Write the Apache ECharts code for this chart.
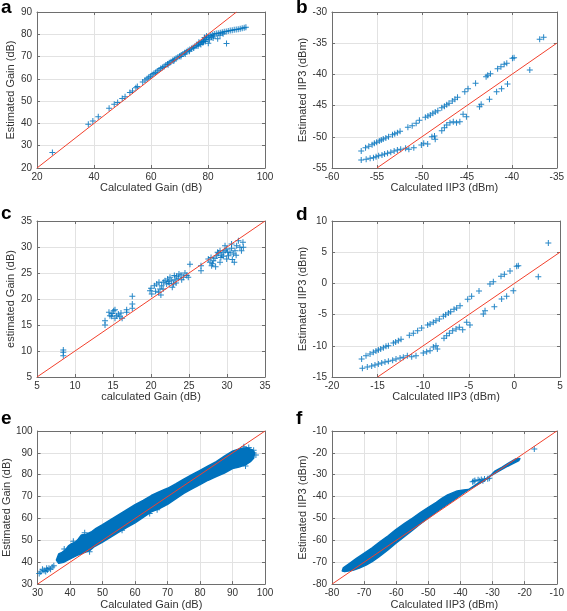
<!DOCTYPE html>
<html>
<head>
<meta charset="utf-8">
<script src="https://cdn.jsdelivr.net/npm/echarts@6/dist/echarts.min.js"></script>
<style>
html,body{margin:0;padding:0;background:#fff;}
#chart{width:567px;height:611px;}
</style>
</head>
<body>
<div id="chart"></div>
<script>
// ---------------- DATA ----------------
// Panel a: Calculated Gain vs Estimated Gain (dB)
const pointsA = [
 [25.4,26.9],[38.0,39.6],[39.6,41.1],[41.5,43.0],[45.3,46.8],[47.1,48.6],[48.3,49.4],[49.9,51.2],
 [50.9,52.0],[52.6,53.9],[53.5,54.5],[54.7,56.0],[55.2,56.6],[57.1,58.6],[57.9,59.5],
 [58.6,60.1],[59.2,60.7],[59.8,61.2],[60.4,61.8],[61.0,62.4],[61.6,62.9],[62.2,63.5],[62.8,64.0],
 [63.4,64.6],[64.0,65.1],[64.6,65.6],[65.2,66.2],[65.8,66.7],[66.4,67.2],[67.0,67.7],[67.6,68.2],
 [68.2,68.7],[68.8,69.2],[69.4,69.7],[70.0,70.2],[70.6,70.7],[71.2,71.2],[71.8,71.7],[72.4,72.2],
 [73.0,72.7],[73.6,73.2],[74.2,73.6],[74.8,74.1],[75.4,74.6],[76.0,75.0],[76.6,75.5],[77.2,76.0],
 [77.8,76.5],[78.4,77.1],[79.0,77.7],[79.6,78.3],[80.2,78.8],
 [66.0,66.3],[68.0,68.0],[70.5,70.0],[72.0,71.2],[73.5,72.4],[75.0,73.8],[76.5,74.7],[77.5,75.4],
 [78.2,76.2],[79.0,76.8],[76.8,76.4],[78.8,78.6],[79.5,79.2],
 [80.8,79.4],[81.5,79.8],[82.2,80.1],[82.9,80.3],[83.6,80.5],[84.3,80.7],[85.0,80.9],[85.7,81.1],
 [86.4,81.3],[87.1,81.5],[87.8,81.7],[88.5,81.8],[89.2,82.0],[89.9,82.1],[90.6,82.3],[91.3,82.5],
 [92.0,82.7],[92.7,82.9],[93.3,83.2],[81.2,78.8],[82.0,79.2],[83.4,78.0],[84.2,79.6],[85.3,80.2],
 [86.5,75.9],[80.1,76.0],[78.4,76.8],[81.8,78.3],[80.5,77.6]
];
const refA = [20, 90];

// Panel b: Calculated IIP3 vs Estimated IIP3 (dBm)
const upperB = [
 [-56.75,-52.28],[-56.27,-51.74],[-55.91,-51.53],[-55.54,-51.26],[-55.29,-51.05],[-55.03,-50.89],
 [-54.74,-50.67],[-54.52,-50.51],[-54.30,-50.35],[-54.01,-50.19],[-53.71,-49.98],[-53.27,-49.66],
 [-53.02,-49.50],[-52.73,-49.34],[-52.43,-49.12],[-51.56,-48.48],[-51.08,-48.22],[-50.64,-47.84],
 [-50.28,-47.36],[-49.62,-46.88],[-49.33,-46.67],[-49.07,-46.51],[-48.78,-46.24],[-48.52,-46.03],
 [-48.23,-45.81],[-47.79,-45.33],[-47.50,-45.12],[-47.24,-44.85],[-46.99,-44.64],[-46.62,-44.26],
 [-46.33,-44.00],[-46.04,-43.68],[-45.23,-42.77],[-44.87,-42.29],[-44.03,-41.43],[-42.86,-40.36],
 [-42.68,-40.15],[-42.38,-39.88],[-41.58,-39.08],[-41.21,-38.76],[-40.85,-38.39],[-40.56,-38.23],
 [-39.93,-37.43],[-39.75,-37.32],[-36.90,-34.38],[-36.46,-34.06]
];
const lowerB = [
 [-56.75,-53.72],[-56.20,-53.61],[-55.76,-53.45],[-55.39,-53.34],[-55.10,-53.18],[-54.81,-53.02],
 [-54.44,-52.92],[-54.15,-52.76],[-53.82,-52.65],[-53.46,-52.49],[-53.09,-52.28],[-52.73,-52.12],
 [-52.36,-52.01],[-51.81,-51.85],[-51.45,-52.01],[-50.90,-51.74],[-50.06,-51.31],[-49.80,-51.05],
 [-49.36,-51.15],[-48.89,-49.98],[-48.60,-49.87],[-48.52,-50.41],[-47.79,-49.02],[-47.50,-48.54],
 [-47.24,-48.11],[-46.88,-47.74],[-46.51,-47.58],[-46.15,-47.74],[-45.78,-47.58],[-45.42,-46.40],
 [-45.05,-46.77],[-43.59,-45.17],[-43.41,-44.80],[-42.49,-44.00],[-41.69,-42.77],[-41.14,-42.29],
 [-40.48,-41.54],[-38.00,-39.29]
];
const refB = [-55, -35];

// Panel c: calculated Gain vs estimated Gain (dB)
const pointsC = [
 [8.46,10.19],[8.46,9.74],[8.46,9.10],
 [13.95,15.83],[13.95,15.0],[14.47,17.44],[14.6,16.8],[14.82,16.67],[15.09,17.76],[15.26,17.95],
 [15.48,16.79],[15.7,17.1],[15.26,16.3],[16.05,17.3],[16.2,16.3],[16.8,17.95],[16.8,17.44],
 [17.54,20.51],[17.54,19.04],[17.54,18.2],[15.9,16.6],[14.9,17.2],
 [19.87,21.6],[20.1,20.96],[20.0,22.05],[20.44,22.56],[20.75,22.88],[21.05,23.2],[21.18,21.92],
 [21.3,20.77],[21.4,22.56],[21.62,23.2],[21.84,23.53],[22.06,22.88],[22.19,23.85],[22.28,23.33],
 [22.5,24.17],[22.72,23.53],[22.8,22.24],[23.07,24.5],[23.16,23.72],[23.38,24.36],[23.6,23.97],
 [23.68,24.8],[23.95,24.6],[24.25,24.17],[24.47,25.0],[24.7,24.5],[24.9,24.17],[24.04,23.72],
 [22.97,22.88],[25.13,26.7],[21.0,21.3],[21.6,21.9],[22.4,23.0],[23.3,23.1],[20.6,21.5],
 [26.58,26.41],[26.58,25.45],[27.54,27.7],[27.76,27.05],[27.98,26.41],[28.2,27.37],[28.42,27.82],
 [28.64,28.33],[28.86,28.85],[29.08,29.3],[29.08,27.05],[29.2,28.0],[29.3,28.46],[29.5,28.97],
 [29.74,29.3],[29.96,29.6],[30.2,28.33],[30.4,28.97],[30.6,29.74],[30.83,28.65],[30.96,27.05],
 [31.05,29.3],[31.27,30.26],[31.5,31.2],[31.7,29.94],[31.9,29.3],[32.1,30.9],[32.15,29.94],
 [30.6,30.6],[29.74,30.26],[28.77,28.97],[27.9,28.0],[29.96,27.7],[28.1,26.8],[28.5,26.2],
 [29.5,28.2],[30.1,29.0],[31.2,28.4],[30.7,27.6]
];
const refC = [5, 35];

// Panel d: Calculated IIP3 vs Estimated IIP3 (dBm)
const upperD = [
 [-16.75,-12.12],[-16.27,-11.58],[-15.83,-11.31],[-15.47,-11.05],[-15.18,-10.83],[-14.92,-10.67],
 [-14.66,-10.51],[-14.37,-10.30],[-14.08,-10.09],[-13.82,-9.98],[-13.27,-9.55],[-13.02,-9.39],
 [-12.73,-9.18],[-12.43,-8.96],[-11.52,-8.32],[-11.08,-8.00],[-10.61,-7.57],[-10.17,-7.15],
 [-9.51,-6.67],[-9.25,-6.51],[-8.89,-6.24],[-8.60,-5.97],[-8.23,-5.71],[-7.79,-5.28],
 [-7.54,-5.01],[-7.24,-4.74],[-6.99,-4.53],[-6.62,-4.16],[-6.33,-3.94],[-5.96,-3.57],
 [-5.12,-2.55],[-4.69,-2.07],[-3.88,-1.22],[-2.68,-0.10],[-2.31,0.28],[-1.47,1.13],
 [-1.10,1.45],[-0.48,1.99],[0.25,2.74],[0.43,2.84],[3.72,6.47]
];
const lowerD = [
 [-16.67,-13.61],[-16.13,-13.40],[-15.65,-13.24],[-15.29,-13.08],[-14.92,-12.92],[-14.55,-12.76],
 [-14.19,-12.60],[-13.82,-12.49],[-13.35,-12.33],[-12.98,-12.12],[-12.54,-11.96],[-12.18,-11.85],
 [-11.74,-11.58],[-11.26,-11.74],[-10.79,-11.58],[-9.99,-11.15],[-9.62,-10.94],[-9.25,-10.78],
 [-8.89,-10.19],[-8.60,-9.98],[-8.45,-10.51],[-7.72,-8.80],[-7.43,-8.38],[-7.13,-8.00],
 [-6.77,-7.57],[-6.40,-7.31],[-6.04,-7.04],[-5.67,-7.41],[-5.23,-6.24],[-4.87,-6.67],
 [-3.41,-4.90],[-3.22,-4.37],[-2.20,-3.73],[-1.40,-2.50],[-0.85,-2.07],[-0.12,-1.16],[2.62,1.08]
];
const refD = [-15, 5];

// Panel e: dense cloud, outline of the band (upper edge then lower edge) + sparse tail / fringe
const bandUpperE = [
 [35.8,41.0],[36.5,43.8],[37.5,44.5],[38.5,45.5],[39.5,47.5],[40.5,48.5],[41.5,49.0],[42.5,50.5],
 [43.5,52.5],[45.0,52.8],[46.5,53.8],[48.0,55.5],[50.0,57.2],[52.5,59.5],[55.0,61.8],[57.5,64.0],
 [60.0,66.3],[62.5,68.3],[65.0,70.5],[67.5,72.3],[70.0,73.8],[72.5,75.8],[75.0,78.0],[77.5,80.0],
 [80.0,82.0],[82.5,84.0],[85.0,86.0],[87.5,88.5],[90.0,90.8],[92.5,92.0],[94.5,92.3],[96.0,91.5],[96.8,90.2]
];
const bandLowerE = [
 [96.5,87.5],[95.5,86.0],[94.0,84.5],[92.0,83.5],[90.0,82.8],[87.5,80.8],[85.0,79.2],[82.5,77.5],
 [80.0,75.5],[77.5,73.5],[75.0,71.5],[72.5,69.0],[70.0,66.5],[67.5,64.5],[65.0,63.0],[62.5,60.5],
 [60.0,58.0],[57.5,56.0],[55.0,53.8],[52.5,51.5],[50.0,49.2],[47.5,47.2],[46.0,45.3],[44.0,44.2],
 [42.0,43.0],[40.0,41.5],[38.0,40.0],[36.5,39.5]
];
const tailE = [
 [30.5,34.8],[31.0,35.5],[31.5,36.8],[32.0,36.2],[32.5,35.8],[32.8,37.3],[33.0,36.5],[33.5,37.2],
 [34.0,36.8],[34.5,37.8],[35.0,38.4],
 [93.5,92.8],[95.0,92.5],[96.5,91.2],[97.2,89.0],[94.0,84.0],[64.5,62.3],[66.8,64.0],[44.5,53.5],
 [41.0,49.6],[38.2,46.0],[46.0,44.8],[56.0,54.6]
];
const refE = [30, 100];

// Panel f: dense cloud outline + spur + outlier
const bandUpperF = [
 [-76.8,-74.0],[-76.5,-72.6],[-74.5,-70.5],[-72.5,-68.4],[-70.4,-66.3],[-67.5,-63.4],[-65.3,-60.9],
 [-62.5,-57.9],[-60.2,-55.2],[-57.5,-52.4],[-55.0,-49.9],[-52.5,-47.3],[-50.0,-44.9],[-47.5,-42.6],
 [-45.8,-40.8],[-44.0,-39.2],[-42.5,-38.3],[-41.0,-37.4],[-39.0,-37.0],[-37.5,-36.8],[-35.5,-35.2],
 [-33.0,-33.0],[-31.0,-31.0],[-29.4,-28.5],[-27.0,-26.5],[-25.3,-24.9],[-22.8,-22.8],[-21.5,-22.6]
];
const bandLowerF = [
 [-21.8,-23.5],[-23.5,-24.8],[-25.3,-26.1],[-27.5,-27.9],[-29.4,-29.5],[-32.0,-31.8],[-34.6,-34.0],
 [-37.0,-36.4],[-39.7,-39.0],[-42.0,-41.5],[-44.8,-44.2],[-47.5,-47.0],[-49.9,-49.6],[-52.5,-52.5],
 [-55.0,-55.4],[-57.5,-58.3],[-60.2,-61.4],[-62.5,-64.3],[-65.3,-67.4],[-67.5,-69.7],[-69.4,-71.3],
 [-71.5,-72.7],[-73.5,-73.7],[-76.0,-74.3]
];
const spurF = [
 [-36.2,-33.2],[-35.8,-33.0],[-35.5,-32.6],[-34.5,-32.3],[-34.0,-32.8],[-33.5,-32.2],[-33.0,-32.7],
 [-32.5,-32.0],[-31.5,-31.8],[-31.0,-31.6],[-17.0,-18.2]
];
const refF = [-80, -10];

// axis ranges / ticks
const axesCfg = [
 {x:[20,100,20], y:[20,90,10], xn:'Calculated Gain (dB)',  yn:'Estimated Gain (dB)'},
 {x:[-60,-35,5], y:[-55,-30,5], xn:'Calculated IIP3 (dBm)', yn:'Estimated IIP3 (dBm)'},
 {x:[5,35,5],    y:[5,35,5],    xn:'calculated Gain (dB)',  yn:'estimated Gain (dB)'},
 {x:[-20,5,5],   y:[-15,10,5],  xn:'Calculated IIP3 (dBm)', yn:'Estimated IIP3 (dBm)'},
 {x:[30,100,10], y:[30,100,10], xn:'Calculated Gain (dB)',  yn:'Estimated Gain (dB)'},
 {x:[-80,-10,10],y:[-80,-10,10],xn:'Calculated IIP3 (dBm)', yn:'Estimated IIP3 (dBm)'}
];
const panelLetters = ['a','b','c','d','e','f'];

// ---------------- LAYOUT / STYLE ----------------
const FONT = 'Liberation Sans, Arial, Helvetica, sans-serif';
const BLUE = '#0072BD';
const RED = '#f2402c';
const AXC = '#6e6e6e';
const TXT = '#333333';
const gridsPos = [
 {left:37, top:12, width:228, height:156},
 {left:332, top:12, width:228, height:156},
 {left:37, top:221, width:228, height:156},
 {left:332, top:221, width:228, height:156},
 {left:37, top:431, width:228, height:155},
 {left:332, top:431, width:228, height:155}
];
const letterPos = [[1,-2],[296,-2],[1,204],[296,205],[1,409],[296,409]];

const PLUS = 'path://M3,0h1.2v3h3v1.2h-3v3h-1.2v-3h-3v-1.2h3z';

const grid = gridsPos.map(g => Object.assign({containLabel:false}, g));
const xAxis = [], yAxis = [];
axesCfg.forEach((c, i) => {
  const common = {
    gridIndex: i, type: 'value',
    axisLine: {show: true, onZero: false, lineStyle: {color: AXC, width: 1}},
    axisTick: {show: true, inside: true, length: 3, lineStyle: {color: AXC}},
  };
  xAxis.push(Object.assign({}, common, {
    position: 'bottom', min: c.x[0], max: c.x[1], interval: c.x[2],
    axisLabel: {fontSize: 10, color: TXT, margin: 4, fontFamily: FONT},
    splitLine: {show: true, lineStyle: {color: '#e2e2e2', width: 1}},
    name: c.xn, nameLocation: 'middle', nameGap: 14,
    nameTextStyle: {fontSize: 11, color: TXT, fontFamily: FONT}
  }));
  xAxis.push(Object.assign({}, common, {
    position: 'top', min: c.x[0], max: c.x[1], interval: c.x[2],
    axisLabel: {show: false}, splitLine: {show: false}
  }));
  yAxis.push(Object.assign({}, common, {
    position: 'left', min: c.y[0], max: c.y[1], interval: c.y[2],
    axisLabel: {fontSize: 10, color: TXT, margin: 5, fontFamily: FONT},
    splitLine: {show: true, lineStyle: {color: '#e2e2e2', width: 1}},
    name: c.yn, nameLocation: 'middle', nameGap: 21, nameRotate: 90,
    nameTextStyle: {fontSize: 11, color: TXT, fontFamily: FONT}
  }));
  yAxis.push(Object.assign({}, common, {
    position: 'right', min: c.y[0], max: c.y[1], interval: c.y[2],
    axisLabel: {show: false}, splitLine: {show: false}
  }));
});

function scatter(i, data) {
  return {
    type: 'scatter', xAxisIndex: 2*i, yAxisIndex: 2*i, data: data,
    symbol: PLUS, symbolSize: 6, silent: true,
    itemStyle: {color: BLUE, opacity: 0.85}, z: 2
  };
}
function refLine(i, r) {
  return {
    type: 'line', xAxisIndex: 2*i, yAxisIndex: 2*i,
    data: [[r[0], r[0]], [r[1], r[1]]], symbol: 'none', silent: true,
    lineStyle: {color: RED, width: 1}, z: 5, clip: true
  };
}
function band(i, upper, lower) {
  const pts = upper.concat(lower);
  return {
    type: 'custom', xAxisIndex: 2*i, yAxisIndex: 2*i, data: pts, silent: true, clip: true,
    encode: {x: 0, y: 1}, z: 2,
    renderItem: function (params, api) {
      if (params.dataIndex !== 0) return null;
      return {
        type: 'polygon',
        shape: {points: pts.map(p => api.coord(p))},
        style: {fill: BLUE, stroke: BLUE, lineWidth: 1.5, lineJoin: 'round'}
      };
    }
  };
}

const series = [
  scatter(0, pointsA), refLine(0, refA),
  scatter(1, upperB), scatter(1, lowerB), refLine(1, refB),
  scatter(2, pointsC), refLine(2, refC),
  scatter(3, upperD), scatter(3, lowerD), refLine(3, refD),
  band(4, bandUpperE, bandLowerE), scatter(4, tailE), refLine(4, refE),
  band(5, bandUpperF, bandLowerF), scatter(5, spurF), refLine(5, refF)
];

const graphic = panelLetters.map((t, i) => ({
  type: 'text', left: letterPos[i][0], top: letterPos[i][1],
  style: {text: t, font: 'bold 19px ' + FONT, fill: '#000'}
}));

const chart = echarts.init(document.getElementById('chart'), null, {renderer: 'canvas'});
chart.setOption({
  animation: false,
  backgroundColor: '#ffffff',
  grid: grid, xAxis: xAxis, yAxis: yAxis, series: series, graphic: graphic
});
</script>
</body>
</html>
